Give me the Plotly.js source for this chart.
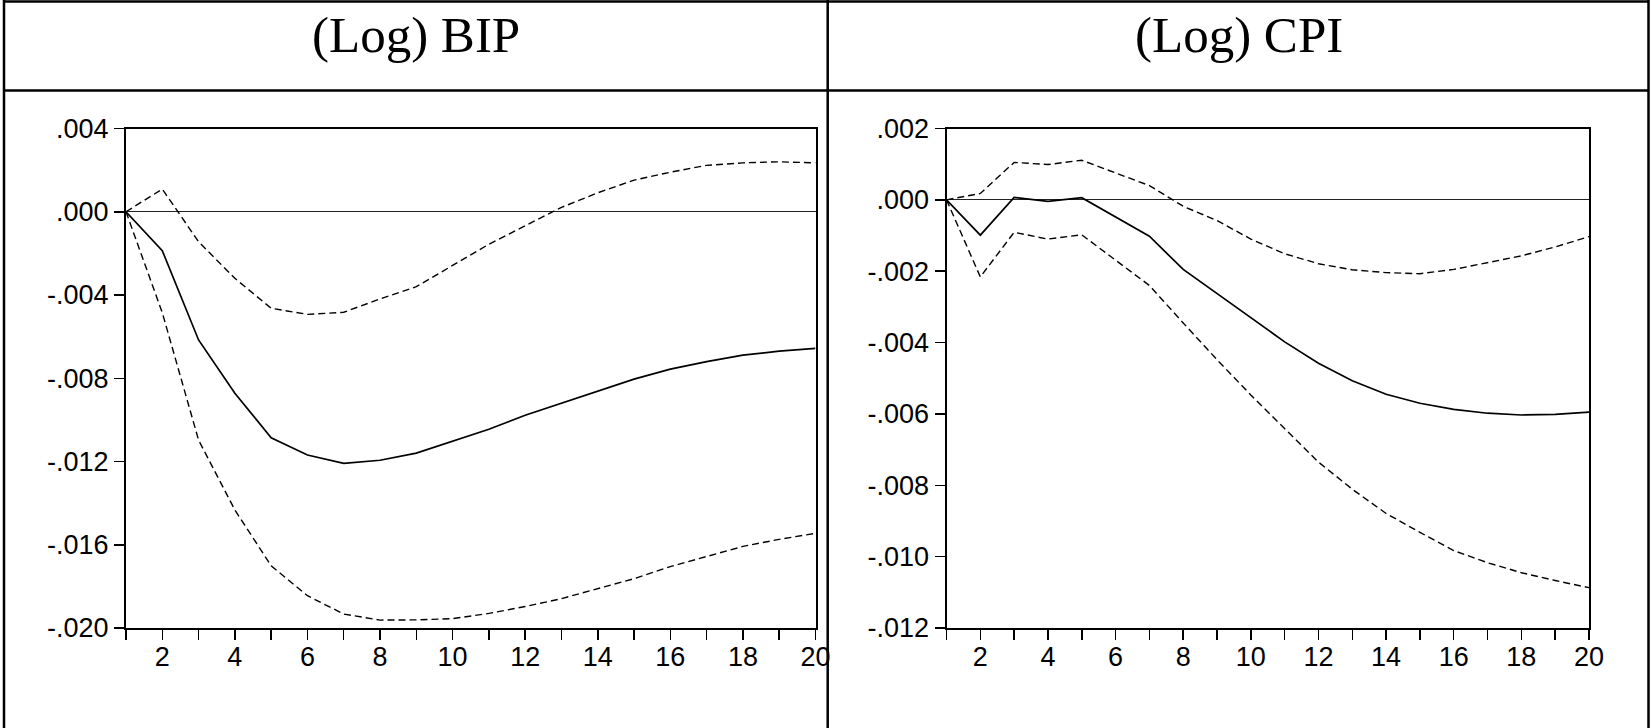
<!DOCTYPE html>
<html>
<head>
<meta charset="utf-8">
<script src="https://cdn.plot.ly/plotly-3.0.1.min.js"></script>
<style>
html,body{margin:0;padding:0;background:#fff;}
#chart{width:1652px;height:728px;}
</style>
</head>
<body>
<div id="chart"></div>
<script>
// Horizon (periods)
const periods = [1,2,3,4,5,6,7,8,9,10,11,12,13,14,15,16,17,18,19,20];
const xTickText = ['','2','','4','','6','','8','','10','','12','','14','','16','','18','','20'];

// Panel titles
const titles = ['(Log) BIP', '(Log) CPI'];

// (Log) BIP impulse response
const bipResponse = [0,-0.00187,-0.00616,-0.00872,-0.01086,-0.01169,-0.01209,-0.01194,-0.01160,-0.01103,-0.01045,-0.00978,-0.00920,-0.00862,-0.00804,-0.00756,-0.00720,-0.00689,-0.00670,-0.00656];
const bipUpper = [0,0.00109,-0.00144,-0.00320,-0.00464,-0.00493,-0.00483,-0.00419,-0.00360,-0.00256,-0.00156,-0.00067,0.00021,0.00091,0.00152,0.00190,0.00223,0.00235,0.00240,0.00235];
const bipLower = [0,-0.00485,-0.01097,-0.01433,-0.01701,-0.01845,-0.01933,-0.01962,-0.01961,-0.01955,-0.01930,-0.01897,-0.01859,-0.01811,-0.01763,-0.01705,-0.01657,-0.01608,-0.01574,-0.01545];
const bipTickVals = [-0.020,-0.016,-0.012,-0.008,-0.004,0.000,0.004];
const bipTickText = ['-.020','-.016','-.012','-.008','-.004','.000','.004'];

// (Log) CPI impulse response
const cpiResponse = [0,-0.00099,0.00007,-0.00004,0.00006,-0.00048,-0.00102,-0.00195,-0.00262,-0.00331,-0.00398,-0.00458,-0.00507,-0.00545,-0.00570,-0.00587,-0.00598,-0.00603,-0.00601,-0.00595];
const cpiUpper = [0,0.00018,0.00105,0.00099,0.00111,0.00076,0.00040,-0.00018,-0.00058,-0.00110,-0.00151,-0.00179,-0.00196,-0.00204,-0.00207,-0.00195,-0.00177,-0.00157,-0.00132,-0.00103];
const cpiLower = [0,-0.00216,-0.00091,-0.00110,-0.00098,-0.00168,-0.00240,-0.00345,-0.00448,-0.00547,-0.00640,-0.00735,-0.00811,-0.00879,-0.00932,-0.00983,-0.01017,-0.01045,-0.01067,-0.01087];
const cpiTickVals = [-0.012,-0.010,-0.008,-0.006,-0.004,-0.002,0.000,0.002];
const cpiTickText = ['-.012','-.010','-.008','-.006','-.004','-.002','.000','.002'];

const W = 1652, H = 728;
const px = v => v / W;
const py = v => 1 - v / H;

const solid = {color:'#000', width:1.7};
const dashed = {color:'#000', width:1.4, dash:'7px,4px'};

function tr(y, xa, ya, line){
  return {x: periods, y: y, xaxis: xa, yaxis: ya, type:'scatter', mode:'lines', line: line, hoverinfo:'skip'};
}

const data = [
  tr(bipUpper,'x','y',dashed), tr(bipLower,'x','y',dashed), tr(bipResponse,'x','y',solid),
  tr(cpiUpper,'x2','y2',dashed), tr(cpiLower,'x2','y2',dashed), tr(cpiResponse,'x2','y2',solid)
];

const tickFont = {family:'Liberation Sans, Arial, sans-serif', size:27, color:'#000'};
function xAxis(domain, anchor){
  return {domain: domain, anchor: anchor, range:[1,20], tickvals: periods, ticktext: xTickText,
    ticks:'outside', ticklen:10, tickwidth:1.5, tickcolor:'#000', showline:true, linewidth:2, linecolor:'#000',
    mirror:true, showgrid:false, zeroline:false, tickfont: tickFont, ticklabelstandoff:-6, fixedrange:true};
}
function yAxis(domain, anchor, range, vals, text){
  return {domain: domain, anchor: anchor, range: range, tickvals: vals, ticktext: text,
    ticks:'outside', ticklen:10, tickwidth:1.5, tickcolor:'#000', showline:true, linewidth:2, linecolor:'#000',
    mirror:true, showgrid:false, zeroline:true, zerolinecolor:'#222', zerolinewidth:1.1, tickfont: tickFont, fixedrange:true};
}

const yDom = [py(628), py(128.5)];
const titleFont = {family:'Liberation Serif, Times New Roman, serif', size:51, color:'#000'};
const layout = {
  width: W, height: H,
  margin:{l:0,r:0,t:0,b:0},
  paper_bgcolor:'#fff', plot_bgcolor:'#fff',
  showlegend:false,
  xaxis: xAxis([px(126), px(815.5)], 'y'),
  yaxis: yAxis(yDom, 'x', [-0.020, 0.004], bipTickVals, bipTickText),
  xaxis2: xAxis([px(946.5), px(1589)], 'y2'),
  yaxis2: yAxis(yDom, 'x2', [-0.012, 0.002], cpiTickVals, cpiTickText),
  annotations: [
    {text: titles[0], xref:'paper', yref:'paper', x: px(415.5), y: py(35), xanchor:'center', yanchor:'middle', showarrow:false, font: titleFont},
    {text: titles[1], xref:'paper', yref:'paper', x: px(1239), y: py(35), xanchor:'center', yanchor:'middle', showarrow:false, font: titleFont}
  ],
  shapes: [
    {type:'line', xref:'paper', yref:'paper', x0: px(3), x1: px(1649), y0: py(1.5), y1: py(1.5), line:{color:'#000', width:2.5}},
    {type:'line', xref:'paper', yref:'paper', x0: px(3), x1: px(1649), y0: py(90.5), y1: py(90.5), line:{color:'#000', width:2.5}},
    {type:'line', xref:'paper', yref:'paper', x0: px(4), x1: px(4), y0: py(0), y1: py(728), line:{color:'#000', width:2.5}},
    {type:'line', xref:'paper', yref:'paper', x0: px(827.7), x1: px(827.7), y0: py(0), y1: py(728), line:{color:'#000', width:2.5}},
    {type:'line', xref:'paper', yref:'paper', x0: px(1648.5), x1: px(1648.5), y0: py(0), y1: py(728), line:{color:'#000', width:2.5}}
  ]
};

Plotly.newPlot('chart', data, layout, {staticPlot:true, displayModeBar:false});
</script>
</body>
</html>
